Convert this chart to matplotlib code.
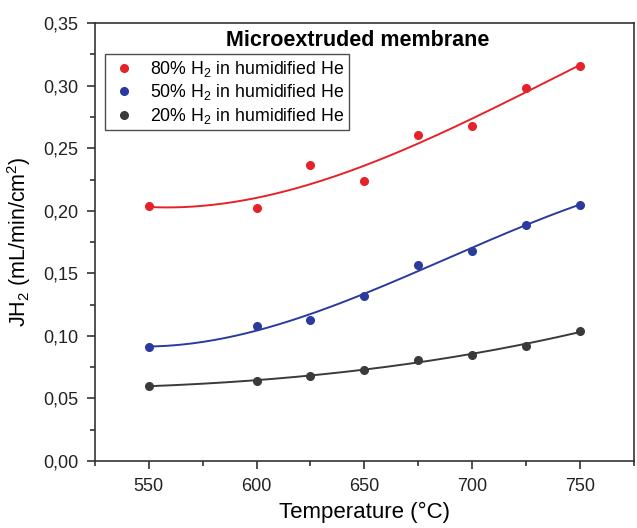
import numpy as np
import matplotlib
matplotlib.use('Agg')
import matplotlib.pyplot as plt
from matplotlib.ticker import MultipleLocator, FuncFormatter

plt.rcParams['font.family'] = ['Liberation Sans', 'DejaVu Sans']
plt.rcParams['mathtext.default'] = 'regular'

# data
temp = [550, 600, 625, 650, 675, 700, 725, 750]
h2_80 = [0.204, 0.202, 0.237, 0.224, 0.261, 0.268, 0.298, 0.316]
h2_50 = [0.091, 0.108, 0.113, 0.132, 0.157, 0.168, 0.189, 0.205]
h2_20 = [0.060, 0.064, 0.068, 0.073, 0.081, 0.085, 0.092, 0.104]

labels = ['80% H$_2$ in humidified He', '50% H$_2$ in humidified He', '20% H$_2$ in humidified He']
colors = ['#e62229', '#2b3a9e', '#3a3a3a']

fig = plt.figure(figsize=(6.37, 5.28), dpi=100)
ax = fig.add_axes([0.149, 0.127, 0.846, 0.829])

tx = np.linspace(550, 750, 200)
for ys, lab, c in zip([h2_80, h2_50, h2_20], labels, colors):
    # polynomial fit line through the measured points
    p = np.polyfit(temp, ys, 3)
    ax.plot(tx, np.polyval(p, tx), color=c, lw=1.4, zorder=2)
    ax.plot(temp, ys, 'o', color=c, ms=5.5, label=lab, zorder=3)

ax.set_xlim(525, 775)
ax.set_ylim(0, 0.35)
ax.xaxis.set_major_locator(MultipleLocator(50))
ax.xaxis.set_minor_locator(MultipleLocator(25))
ax.yaxis.set_major_locator(MultipleLocator(0.05))
ax.yaxis.set_minor_locator(MultipleLocator(0.025))
ax.yaxis.set_major_formatter(FuncFormatter(lambda v, pos: ('%.2f' % v).replace('.', ',')))
ax.tick_params(which='major', direction='out', length=6, width=1.2, labelsize=13,
               color='#333333', labelcolor='#222222', pad=6)
ax.tick_params(which='minor', direction='out', length=3.5, width=1.2, color='#333333')
for s in ax.spines.values():
    s.set_linewidth(1.2)
    s.set_color('#333333')

ax.set_xlabel('Temperature (°C)', fontsize=16, labelpad=5)
ax.set_ylabel('JH$_2$ (mL/min/cm$^2$)', fontsize=15.5, labelpad=7)

ax.text(0.487, 0.961, 'Microextruded membrane', transform=ax.transAxes,
        ha='center', va='center', fontsize=15.5, fontweight='bold')

leg = ax.legend(loc='upper left', bbox_to_anchor=(0.012, 0.937), fontsize=12.8,
                frameon=True, fancybox=False, edgecolor='#222222',
                handletextpad=0.7, borderpad=0.25, labelspacing=0.2, handlelength=1.6,
                borderaxespad=0.2)
leg.get_frame().set_linewidth(1.0)

plt.savefig('out.png', dpi=100)
plt.close(fig)
